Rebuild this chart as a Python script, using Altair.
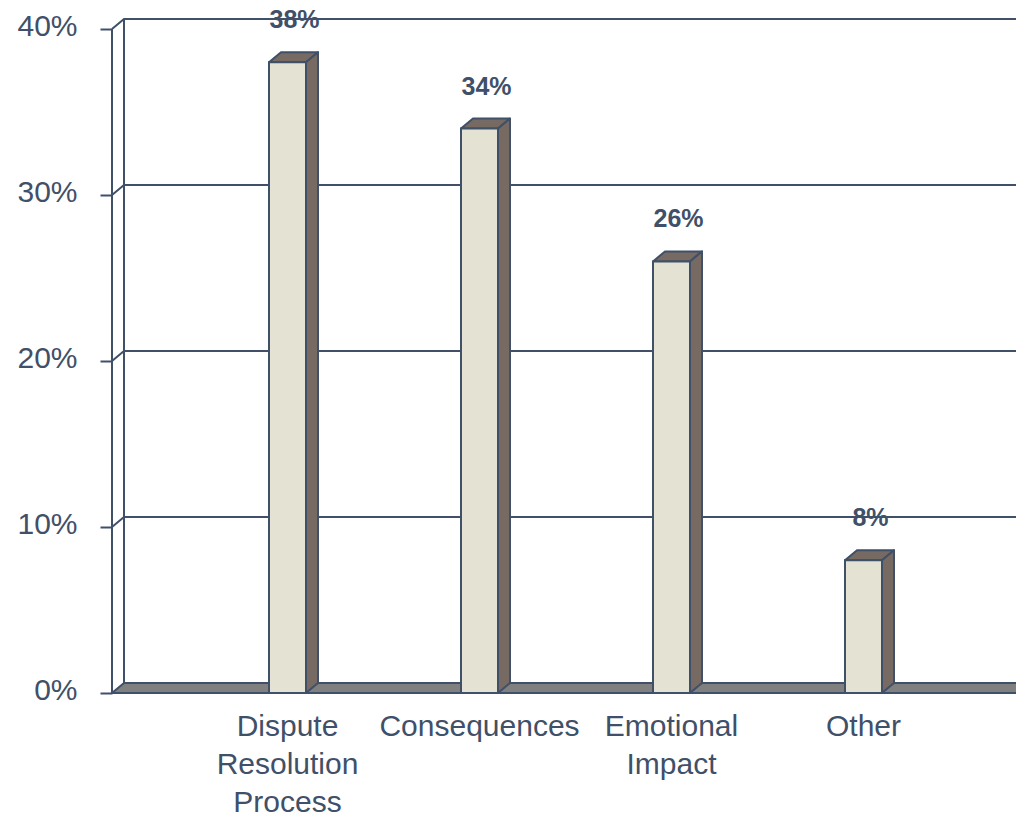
import altair as alt
import pandas as pd

# ---- data -------------------------------------------------------------
categories = ["Dispute Resolution Process", "Consequences", "Emotional Impact", "Other"]
shares = [38, 34, 26, 8]
tick_values = [0, 10, 20, 30, 40]

# ---- layout (pixels) --------------------------------------------------
PX_PER_PCT = 16.6          # vertical pixels per percentage point
DEPTH_X = 12               # 3-D depth, horizontal component
DEPTH_Y = 10               # 3-D depth, vertical component
W = 904                    # plot width
H = 40 * PX_PER_PCT + DEPTH_Y
FIRST_CENTER = 175.5
STEP = 192
BAR_W = 37
PAD_LEFT, PAD_TOP = 112, 19

DX = DEPTH_X                       # x scale is in pixels
DY = DEPTH_Y / PX_PER_PCT          # depth expressed in percentage points
Y_MAX = 40 + DY

INK = "#3F5068"
FACE = "#E4E3D3"
SHADE = "#766A62"
FLOOR = "#808080"
FONT = "Liberation Sans"

x_scale = alt.Scale(domain=[0, W], nice=False, zero=False)
y_scale = alt.Scale(domain=[0, Y_MAX], nice=False, zero=True)

y_axis = alt.Axis(
    values=tick_values,
    labelExpr="datum.value + '%'",
    title=None,
    grid=False,
    domain=False,
    ticks=True,
    tickSize=12,
    tickWidth=2,
    tickColor=INK,
    labelColor=INK,
    labelFont=FONT,
    labelFontSize=30,
    labelPadding=23,
    labelOffset=-3,
)

# ---- derived geometry -------------------------------------------------
bars = pd.DataFrame({"cat": categories, "value": shares})
bars["xc"] = [FIRST_CENTER + STEP * i for i in range(len(bars))]
bars["xl"] = bars["xc"] - BAR_W / 2
bars["xr"] = bars["xc"] + BAR_W / 2
bars["base"] = 0.0
bars["label"] = [f"{v}%" for v in shares]

faces = []
for _, r in bars.iterrows():
    v, xl, xr = r["value"], r["xl"], r["xr"]
    # top face
    faces += [
        {"cat": r["cat"], "face": "top", "x": xl, "lo": v, "hi": v},
        {"cat": r["cat"], "face": "top", "x": xl + DX, "lo": v, "hi": v + DY},
        {"cat": r["cat"], "face": "top", "x": xr, "lo": v, "hi": v + DY},
        {"cat": r["cat"], "face": "top", "x": xr + DX, "lo": v + DY, "hi": v + DY},
    ]
    # side face
    faces += [
        {"cat": r["cat"], "face": "side", "x": xr, "lo": 0, "hi": v},
        {"cat": r["cat"], "face": "side", "x": xr + DX, "lo": DY, "hi": v + DY},
    ]
faces = pd.DataFrame(faces)

grid = []
for t in tick_values[1:]:
    grid += [
        {"level": t, "x": 0, "y": t},
        {"level": t, "x": DX, "y": t + DY},
        {"level": t, "x": W + 10, "y": t + DY},
    ]
grid = pd.DataFrame(grid)

floor = pd.DataFrame({
    "x": [0, DX, W + 10],
    "lo": [0, 0, 0],
    "hi": [0, DY, DY],
})

walls = pd.DataFrame({
    "x": [0, DX],
    "y0": [0, DY],
    "y1": [40, 40 + DY],
})

no_x = dict(scale=x_scale, axis=None)

# ---- layers -----------------------------------------------------------
grid_layer = alt.Chart(grid).mark_line(stroke=INK, strokeWidth=2).encode(
    x=alt.X("x:Q", **no_x),
    y=alt.Y("y:Q", scale=y_scale, axis=y_axis),
    detail="level:N",
)

floor_layer = alt.Chart(floor).mark_area(
    orient="vertical", fill=FLOOR, stroke=INK, strokeWidth=2
).encode(
    x=alt.X("x:Q", **no_x),
    y=alt.Y("hi:Q", scale=y_scale, axis=y_axis),
    y2="lo:Q",
)

wall_layer = alt.Chart(walls).mark_rule(stroke=INK, strokeWidth=2).encode(
    x=alt.X("x:Q", **no_x),
    y=alt.Y("y0:Q", scale=y_scale, axis=y_axis),
    y2="y1:Q",
)

shade_layer = alt.Chart(faces).mark_area(
    orient="vertical", fill=SHADE, stroke=INK, strokeWidth=2, strokeJoin="round"
).encode(
    x=alt.X("x:Q", **no_x),
    y=alt.Y("hi:Q", scale=y_scale, axis=y_axis),
    y2="lo:Q",
    detail=["cat:N", "face:N"],
)

front_layer = alt.Chart(bars).mark_rect(
    fill=FACE, stroke=INK, strokeWidth=2
).encode(
    x=alt.X("xl:Q", **no_x),
    x2="xr:Q",
    y=alt.Y("value:Q", scale=y_scale, axis=y_axis),
    y2="base:Q",
)

value_labels = alt.Chart(bars).mark_text(
    font=FONT, fontSize=25, fontWeight="bold", color=INK,
    align="center", baseline="alphabetic", dx=7, dy=-34,
).encode(
    x=alt.X("xc:Q", **no_x),
    y=alt.Y("value:Q", scale=y_scale, axis=y_axis),
    text="label:N",
)

category_labels = alt.Chart(bars).mark_text(
    font=FONT, fontSize=30, color=INK, align="center",
    baseline="alphabetic", lineBreak=" ", lineHeight=38, dy=43,
).encode(
    x=alt.X("xc:Q", **no_x),
    y=alt.Y("base:Q", scale=y_scale, axis=y_axis),
    text="cat:N",
)

chart = alt.layer(
    grid_layer, floor_layer, wall_layer, shade_layer, front_layer,
    value_labels, category_labels,
).properties(
    width=W,
    height=H,
    autosize=alt.AutoSizeParams(type="none"),
    padding={"left": PAD_LEFT, "top": PAD_TOP, "right": 0, "bottom": 819 - PAD_TOP - H},
    background="white",
).configure_view(strokeWidth=0)

chart.save("out.html", embed_options={"renderer": "svg", "actions": False})
